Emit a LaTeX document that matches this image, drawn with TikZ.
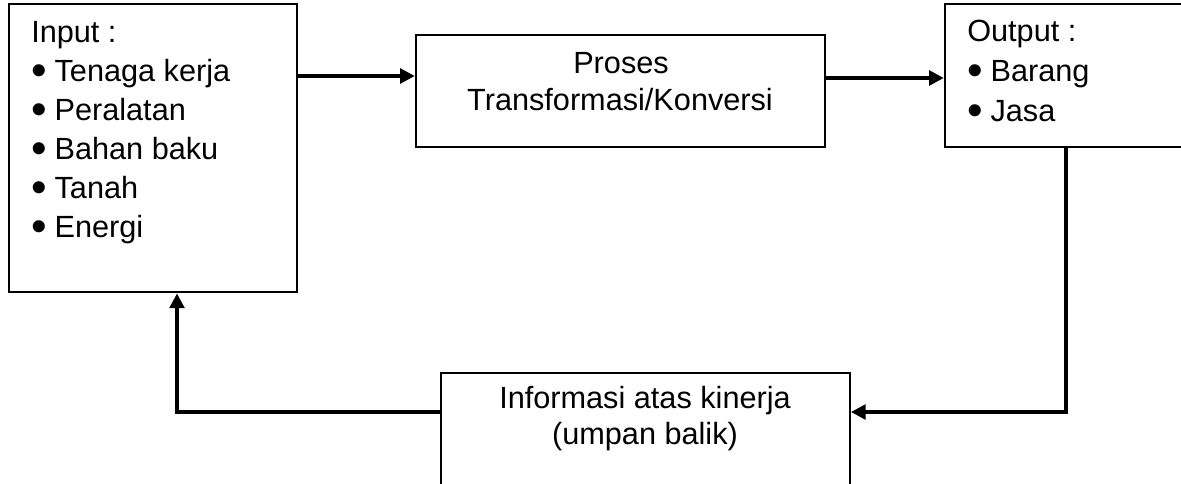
\documentclass[tikz,border=0pt]{standalone}
\usepackage{fontspec}
\setmainfont{Liberation Sans}
\usetikzlibrary{fit,arrows.meta}
% list bullet followed by a fixed gap before the item text
\newcommand\listdot{\makebox[17.5pt][l]{\smash{\raisebox{-3pt}{\scalebox{1.45}{•}}}}}
\begin{document}
\begin{tikzpicture}[x=0.75pt,y=-0.75pt,
  box/.style={draw,inner sep=0pt,line width=1.8pt},
  txt/.style={inner sep=0pt,font=\fontsize{23pt}{29pt}\selectfont},
  link/.style={line width=2.6pt,-{Triangle[length=11pt,width=11pt]}}]
\path[use as bounding box] (0,0) rectangle (1181,483);
\begin{scope}
  \clip (0,0) rectangle (1181,483);
  \node[box,line width=2.2pt,fit={(9,4)(297,292)}] (inp) {};
  \node[box,fit={(416,35)(825,147)}] (proc) {};
  \node[box,fit={(945,4)(1200,147)}] (out) {};
  \node[box,line width=1.5pt,fit={(441,373)(850,520)}] (fb) {};
\end{scope}

% input list
\node[txt,anchor=base west] (inhead) at (31,42) {Input :};
\foreach \t [count=\i] in {Tenaga kerja,Peralatan,Bahan baku,Tanah,Energi}
  \node[txt,anchor=base west] (in\i) at (31,{42+39*\i}) {\listdot\t};

% process
\node[txt,anchor=base] (proc1) at (621,73) {Proses};
\node[txt,anchor=base] (proc2) at (620,110) {Transformasi/Konversi};

% output list
\node[txt,anchor=base west] (outhead) at (967,41) {Output :};
\node[txt,anchor=base west] (out1) at (967,81) {\listdot Barang};
\node[txt,anchor=base west] (out2) at (967,121) {\listdot Jasa};

% feedback
\node[txt,anchor=base] (fb1) at (645,408) {Informasi atas kinerja};
\node[txt,anchor=base] (fb2) at (645,444) {(umpan balik)};

% connectors
\draw[link] (inp.east |- 0,76) -- (proc.west |- 0,76);
\draw[link] (proc.east |- 0,78) -- (out.west |- 0,78);
\draw[link] (out.south -| 1066,0) |- (fb.east |- 0,412);
\draw[link] (fb.west |- 0,412) -| (inp.south -| 177,0);
\end{tikzpicture}
\end{document}
